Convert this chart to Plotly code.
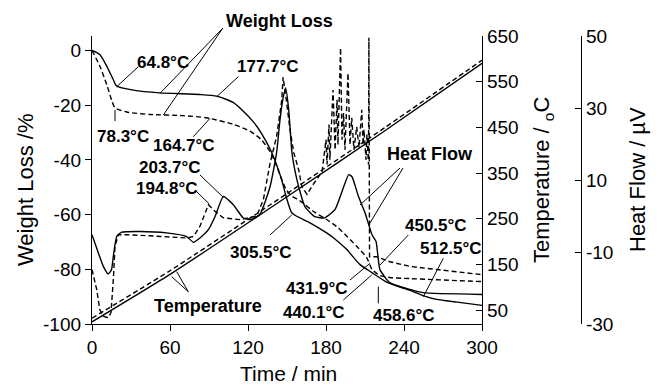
import plotly.graph_objects as go

# ---------------- data ----------------
# Weight loss, solid run (left axis, %)
t_wl_solid = [0, 6, 11.3, 16.3, 19, 31.8, 52, 83, 96, 108.5, 116, 124, 130, 138, 143.3, 146, 150,
              153.6, 157.5, 167.7, 180.5, 185.4, 196, 206, 215, 227, 244.6, 254.6, 265, 281, 300]
wl_solid = [0, -1.5, -5.7, -10.6, -13, -14.5, -15.5, -16.1, -16.7, -19, -22, -26, -30, -37, -43.5, -47.5, -54.5,
            -59.3, -60.6, -63, -66.7, -68.4, -72.8, -78.2, -81.1, -84.8, -87.7, -89.6, -91, -92, -93.2]

# Weight loss, dashed run (left axis, %)
t_wl_dash = [0, 6, 11.3, 15, 17.7, 26.7, 44.6, 70, 88, 108.7, 121.5, 130, 137, 141, 145, 149, 153, 160,
             171.5, 180.5, 188, 196, 203.6, 211.3, 215.4, 221.5, 229, 244.6, 300]
wl_dash = [0, -5.7, -12.4, -18, -21, -22.5, -23.4, -23.8, -24.6, -27, -29.5, -32.5, -37, -41, -46, -50.5, -53, -55,
           -59.2, -61.8, -64.3, -67.9, -71.6, -75.7, -80, -82.3, -83, -83.4, -84.5]

# Temperature (right axis, oC)
t_temp = [0, 60, 150, 225, 300]
temp_solid = [24, 128, 298, 442, 590]
temp_dash = [32, 136, 305, 449, 597]

# Heat flow, solid run (far right axis, uV)
t_hf_solid = [0, 4.9, 8.7, 12.5, 15, 16.4, 19, 22.8, 36.9, 57.4, 72.8, 78, 83, 89.5, 94.6, 101, 108.7, 116.4,
              121.5, 129, 137, 142, 144.6, 147, 149, 151.3, 152.3, 153.8, 156, 159, 163.8, 171.5, 179, 186.9,
              193.6, 197.5, 200, 205, 210, 215.4, 218.5, 220, 221.5, 229, 244.6, 254.6, 300]
hf_solid = [-5.2, -10.3, -14, -16.1, -14.9, -11.2, -5.7, -4.5, -4.3, -4.7, -5.7, -7.3, -6.1, -3.8, -0.2, 5.4, 3.1,
            -0.55, -1, 0.4, 8.2, 17.6, 26.7, 32.8, 35.6, 29.5, 24.8, 17.6, 12.8, 8.1, 2.6, -0.2, -0.5, 1.75,
            8.1, 11.5, 10.9, 5.4, 0.9, -5.2, -7.1, -11.3, -14.9, -18.5, -20.4, -21.3, -21.8]

# Heat flow, dashed run (far right axis, uV)
t_hf_dash = [0, 3.6, 6, 8.7, 12.5, 14.6, 16.4, 17.7, 20.2, 26.7, 44.6, 72.8, 78, 83, 89.5, 94.6, 101, 113.8,
             126.7, 131.8, 137, 142, 146, 147, 149, 152.3, 155.2, 159, 161.5, 165.4, 170, 173.8, 177, 180,
             180.8, 182.3, 183, 185.4, 187, 188.5, 189.2, 191.2, 192.3, 193.5, 194.6, 196.9, 198.5, 199.8,
             201.5, 203.6, 205.4, 207.5, 208.5, 209.2, 210.8, 211.5, 212.7, 213, 213.5, 219, 229, 244.6, 300]
hf_dash = [-14.9, -20.4, -26, -27.8, -28.3, -26.8, -17.7, -8.4, -5.2, -5.2, -5.5, -6.1, -5.7, -2.9, 3.1, 1.3,
           -0.5, -1, 0, 4.5, 14.7, 22.1, 32.3, 38.6, 33.6, 24, 17.6, 12.8, 8.1, 6, 8.7, 10.6, 12.3, 21.2,
           14.3, 25.4, 15.6, 35, 18.4, 32.3, 19.8, 46.7, 21.2, 28.6, 18.4, 39.7, 19.8, 27.3, 18.4, 24.8, 19,
           29.5, 19.8, 24, 15.6, 22.6, 14.3, 49.5, -11.3, -11.3, -12.7, -14, -16.3]

x_ticks = [0, 60, 120, 180, 240, 300]
wl_ticks = [-100, -80, -60, -40, -20, 0]
temp_ticks = [50, 150, 250, 350, 450, 550, 650]
hf_ticks = [-30, -10, 10, 30, 50]

# ---------------- layout geometry ----------------
W, H = 658, 386
ML, MR, MT, MB = 92, 77, 36, 62
PW, PH = W - ML - MR, H - MT - MB
XDOM = 390 / PW
FONT = "Liberation Sans, Arial, sans-serif"


def P(px, py):
    return (px - ML) / PW, (H - MB - py) / PH


DASH = "5px,3px"
LW = 1.4

fig = go.Figure()
fig.add_trace(go.Scatter(x=t_wl_solid, y=wl_solid, mode="lines", name="Weight loss (solid)",
                         line=dict(color="black", width=LW, shape="spline", smoothing=0.6), yaxis="y"))
fig.add_trace(go.Scatter(x=t_wl_dash, y=wl_dash, mode="lines", name="Weight loss (dashed)",
                         line=dict(color="black", width=LW, dash=DASH, shape="spline", smoothing=0.6), yaxis="y"))
fig.add_trace(go.Scatter(x=t_temp, y=temp_solid, mode="lines", name="Temperature (solid)",
                         line=dict(color="black", width=LW, shape="spline", smoothing=0.5), yaxis="y2"))
fig.add_trace(go.Scatter(x=t_temp, y=temp_dash, mode="lines", name="Temperature (dashed)",
                         line=dict(color="black", width=LW, dash=DASH, shape="spline", smoothing=0.5), yaxis="y2"))
fig.add_trace(go.Scatter(x=t_hf_solid, y=hf_solid, mode="lines", name="Heat flow (solid)",
                         line=dict(color="black", width=LW, shape="spline", smoothing=0.5), yaxis="y3"))
fig.add_trace(go.Scatter(x=t_hf_dash, y=hf_dash, mode="lines", name="Heat flow (dashed)",
                         line=dict(color="black", width=LW, dash=DASH), yaxis="y3"))

# ---------------- text labels and pointer lines ----------------
labels = [
    ("Weight Loss", 279, 21, 18),
    ("64.8°C", 163, 62, 17),
    ("177.7°C", 268, 67, 17),
    ("78.3°C", 123, 136, 17),
    ("164.7°C", 184, 145, 17),
    ("203.7°C", 170, 167, 17),
    ("194.8°C", 167, 188, 17),
    ("305.5°C", 261, 252, 17),
    ("Temperature", 208, 306, 18),
    ("Heat Flow", 430, 154, 18),
    ("431.9°C", 317, 288, 17),
    ("440.1°C", 314, 312, 17),
    ("450.5°C", 436, 225, 17),
    ("512.5°C", 451, 248, 17),
    ("458.6°C", 404, 315, 17),
]
pointers = [
    (222.7, 28.3, 160, 93.3), (222.7, 28.3, 163.3, 115),
    (116.7, 86.7, 138.3, 66.7), (216.7, 96.7, 238.3, 76.7),
    (115, 110, 115, 121), (193.3, 136.7, 210, 118.3),
    (200, 175, 223.3, 197.3), (195, 190, 209.3, 204),
    (270, 235, 291.7, 215),
    (188.3, 291.7, 176.7, 271.7), (188.3, 291.7, 171.7, 276.7),
    (400, 168, 360, 205), (403, 168, 370, 223),
    (350, 280, 370, 263.3), (343.3, 300, 371.7, 275),
    (408.3, 235, 380, 265), (443.3, 258.3, 423.3, 296.7),
    (378.3, 286.7, 378.3, 303.3),
]
# axis titles (text, centre px, centre py, rotation, size)
axis_titles = [
    ("Time / min", 288, 373, 0, 21),
    ("Weight Loss /%", 25, 190, -90, 22),
    ("Temperature / <sub>o</sub>C", 543, 180, -90, 22),
    ("Heat Flow / µV", 637, 180, -90, 22),
]

annotations = []
for txt, px, py, fs in labels:
    x, y = P(px, py)
    annotations.append(dict(text="<b>%s</b>" % txt, x=x, y=y, xref="paper", yref="paper",
                            xanchor="center", yanchor="middle", showarrow=False,
                            font=dict(family=FONT, size=fs, color="black")))
for txt, px, py, rot, fs in axis_titles:
    x, y = P(px, py)
    annotations.append(dict(text=txt, x=x, y=y, xref="paper", yref="paper", textangle=rot,
                            xanchor="center", yanchor="middle", showarrow=False,
                            font=dict(family=FONT, size=fs, color="black")))
shapes = []
for x0p, y0p, x1p, y1p in pointers:
    x0, y0 = P(x0p, y0p)
    x1, y1 = P(x1p, y1p)
    shapes.append(dict(type="line", xref="paper", yref="paper", x0=x0, y0=y0, x1=x1, y1=y1,
                       line=dict(color="black", width=1)))

axis_common = dict(showline=True, linecolor="black", linewidth=1.3, showgrid=False, zeroline=False,
                   ticklen=6, tickwidth=1.3, tickcolor="black", automargin=False,
                   tickfont=dict(family=FONT, size=19, color="black"))

fig.update_layout(
    template="none",
    width=W, height=H,
    margin=dict(l=ML, r=MR, t=MT, b=MB, pad=0),
    paper_bgcolor="white", plot_bgcolor="white",
    showlegend=False,
    font=dict(family=FONT, color="black"),
    xaxis=dict(domain=[0, XDOM], range=[0, 300], tickvals=x_ticks, ticktext=[str(v) for v in x_ticks],
               ticks="outside", **axis_common),
    yaxis=dict(range=[-100, 5.3], tickvals=wl_ticks, ticktext=[str(v) for v in wl_ticks],
               ticks="outside", **axis_common),
    yaxis2=dict(overlaying="y", side="right", anchor="x", range=[19.35, 650], tickvals=temp_ticks,
                ticktext=[str(v) for v in temp_ticks], ticks="inside", **axis_common),
    yaxis3=dict(overlaying="y", side="right", anchor="free", position=1.0, range=[-30, 50],
                tickvals=hf_ticks, ticktext=[str(v) for v in hf_ticks], ticks="inside", **axis_common),
    annotations=annotations,
    shapes=shapes,
)

fig.write_html("out.html", config={"displayModeBar": False},
               post_script="document.body.style.margin='0';document.body.style.overflow='hidden';")
